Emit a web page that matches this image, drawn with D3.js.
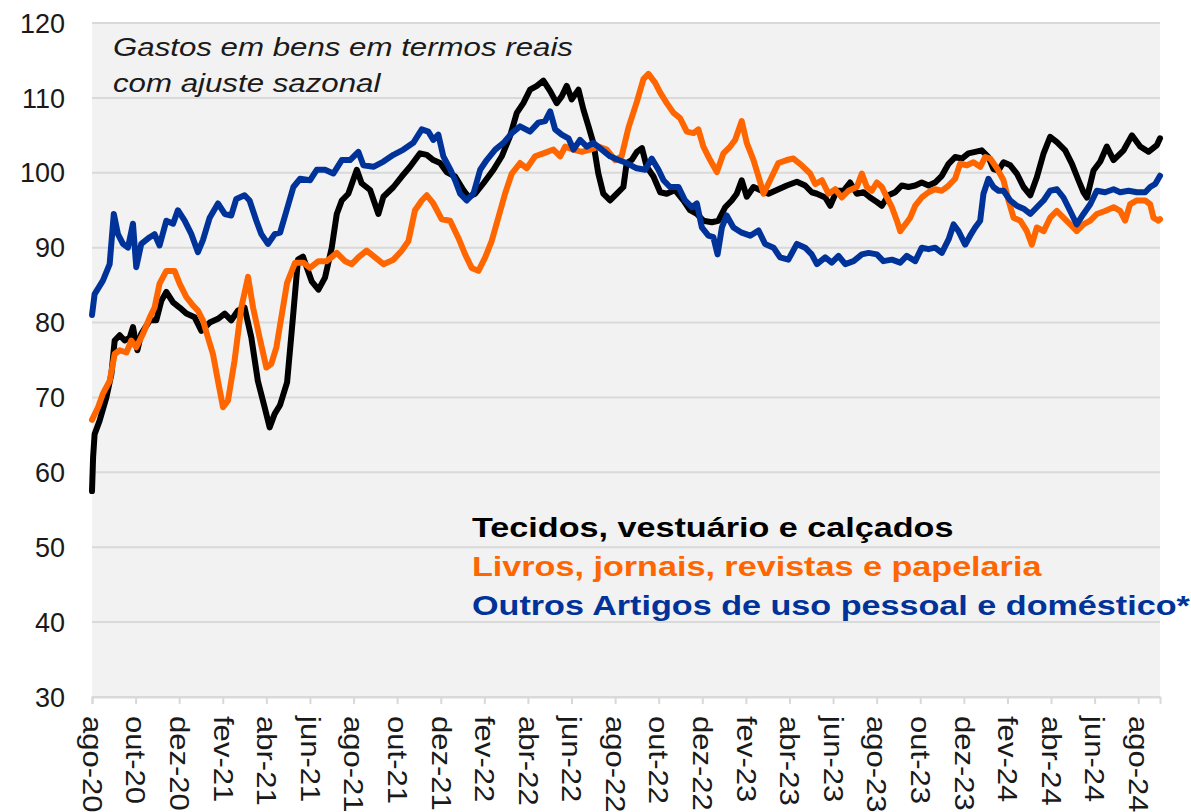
<!DOCTYPE html>
<html>
<head>
<meta charset="utf-8">
<script src="https://cdn.jsdelivr.net/npm/d3@7"></script>
<style>
  html, body { margin: 0; padding: 0; background: #ffffff; }
  svg { display: block; font-family: "Liberation Sans", Arial, sans-serif; }
</style>
</head>
<body>
<svg id="chart" width="1191" height="812"></svg>
<script>
// ---- Data (t = months since ago-2020) ----
const tickLabels = ["ago-20","out-20","dez-20","fev-21","abr-21","jun-21","ago-21","out-21","dez-21",
  "fev-22","abr-22","jun-22","ago-22","out-22","dez-22","fev-23","abr-23","jun-23","ago-23","out-23",
  "dez-23","fev-24","abr-24","jun-24","ago-24"];
const yTicks = [30,40,50,60,70,80,90,100,110,120];

const seriesNames = ["Tecidos, vestuário e calçados",
                     "Livros, jornais, revistas e papelaria",
                     "Outros Artigos de uso pessoal e doméstico*"];
const seriesColors = ["#000000", "#FF6600", "#003399"];

const tecidosT = [0,0.05,0.12,0.35,0.66,0.89,1.04,1.27,1.5,1.73,1.88,2.08,2.26,2.65,2.95,3.18,3.41,3.72,4.02,4.33,4.71,5.02,5.4,5.78,6.09,6.39,6.7,7.0,7.31,7.61,7.92,8.15,8.38,8.63,8.95,9.22,9.45,9.68,10.08,10.39,10.69,11.0,11.23,11.46,11.76,12.15,12.37,12.76,13.14,13.37,13.83,14.21,14.59,15.05,15.36,15.66,15.97,16.27,16.66,17.04,17.27,17.58,17.96,18.42,18.8,19.18,19.49,19.79,20.1,20.41,20.71,21.02,21.32,21.55,21.78,22.01,22.32,22.55,22.78,23.0,23.23,23.46,23.77,24.08,24.38,24.53,24.76,25.0,25.23,25.45,25.76,26.07,26.37,26.75,27.14,27.44,27.75,28.05,28.44,28.74,29.05,29.35,29.58,29.81,30.04,30.35,30.65,31.04,31.42,31.88,32.34,32.72,33.02,33.26,33.64,33.87,34.17,34.48,34.78,35.09,35.4,35.7,36.01,36.24,36.54,36.85,37.15,37.46,37.77,38.07,38.38,38.68,38.99,39.3,39.6,39.91,40.21,40.52,40.82,41.13,41.36,41.59,41.82,42.13,42.43,42.74,43.05,43.35,43.66,43.96,44.27,44.65,44.96,45.26,45.49,45.65,45.95,46.26,46.56,46.87,47.33,47.71,48.09,48.47,48.86,49.0];
const tecidosV = [57.5,62,65.1,66.9,70,73.1,77.6,78.3,77.6,78,79.4,76.3,78.5,80.3,80.3,82.9,84.1,82.7,82,81.2,80.7,78.9,80.0,80.5,81.2,80.3,81.6,82,78,72.2,68.7,66,67.8,69,72,80.7,88.4,88.8,85.5,84.4,86,90,94.5,96.3,97.2,100.4,98.6,97.7,94.5,96.8,98.1,99.5,100.8,102.6,102.4,101.7,101.3,100.1,99.5,97.7,96.8,97.2,98.6,100.4,102.2,104.9,108,109.3,111.1,111.6,112.3,110.9,109.3,110.2,111.6,109.8,111.1,108.4,106.2,104,99.9,97.2,96.3,97.2,98.1,101.3,101.7,102.8,103.3,100.8,99.5,97.4,97.2,97.7,96.3,95,94.5,93.6,93.4,93.6,95.4,96.3,97.2,99,96.8,98.1,97.7,97.2,97.7,98.3,98.8,98.3,97.4,97.2,96.7,95.6,97.6,97.6,98.7,97.2,97.4,96.7,96.1,95.6,97,97.4,98.3,98.1,98.3,98.7,98.3,98.7,99.6,101.2,102.1,101.9,102.6,102.8,103,102.1,100.5,100.3,101.4,101,99.9,98.1,97,99.4,102.6,104.8,104.1,103,101.2,99,97.4,96.7,100.3,101.5,103.5,101.7,103,105,103.5,102.8,103.7,104.6];

const livrosT = [0,0.28,0.5,0.81,1.04,1.27,1.58,1.8,2.03,2.34,2.65,2.87,3.1,3.41,3.79,4.02,4.33,4.63,4.86,5.09,5.32,5.55,5.78,6.01,6.24,6.54,6.85,7.16,7.39,7.69,8.0,8.23,8.46,8.95,9.32,9.7,10.0,10.39,10.77,11.23,11.61,11.92,12.22,12.6,12.99,13.37,13.83,14.21,14.52,14.82,15.13,15.36,15.66,16.04,16.43,16.81,17.12,17.42,17.73,18.04,18.34,18.65,18.95,19.26,19.64,19.95,20.33,20.71,21.17,21.48,21.71,22.09,22.47,22.85,23.23,23.62,24.0,24.3,24.61,25.0,25.3,25.53,25.84,26.07,26.37,26.68,26.98,27.29,27.6,27.82,28.05,28.36,28.67,28.97,29.28,29.51,29.81,30.04,30.35,30.58,30.81,31.11,31.49,31.88,32.18,32.56,32.95,33.18,33.49,33.79,34.1,34.4,34.71,35.09,35.32,35.55,35.78,36.01,36.24,36.47,36.7,36.93,37.08,37.31,37.54,37.77,38.07,38.38,38.68,38.99,39.3,39.6,39.83,40.14,40.44,40.75,40.98,41.21,41.52,41.82,42.05,42.28,42.59,42.89,43.12,43.35,43.66,43.96,44.27,44.57,44.88,45.18,45.49,45.8,46.1,46.48,46.87,47.17,47.4,47.63,47.94,48.32,48.55,48.7,48.93,49.0];
const livrosV = [67,68.7,70.5,72.2,75.8,76.3,76,77.6,76.7,78.5,80.7,82,85.2,86.9,86.9,85.2,83.4,82.3,81.6,80.3,78,75.8,72.2,68.7,69.6,74.9,82,86.1,82,78,74,74.5,76.7,85.3,88,88,87.3,88.2,88.2,89.3,88.2,87.8,88.7,89.6,88.7,87.8,88.4,89.6,90.9,95,96.3,97,95.9,93.8,93.6,91.3,89.1,87.3,86.9,88.7,90.9,94.1,97.2,99.9,101.3,100.6,102.2,102.6,103.1,102.2,103.5,103.1,102.8,103.1,103.5,103.1,101.7,102.2,106,109.5,112.5,113.2,112,110.7,109.3,108,107.3,105.5,105.3,105.8,103.5,101.7,100.1,102.6,103.5,104.4,106.9,104,101.7,99.5,97.2,99,101.3,101.7,101.9,101,99.9,98.5,99,97.2,97.8,96.7,97.6,98.1,99.9,98.1,97.6,98.7,98.1,96.7,95.4,93.6,92.2,93.1,94,95.6,96.7,97.4,97.8,97.6,98.3,99.2,101.2,101,101.4,100.8,102.1,101.9,100.6,99,96.3,94,93.6,92.2,90.4,92.7,92.2,94,94.9,94,93.1,92.2,93.1,93.6,94.5,94.9,95.4,94.9,93.6,95.8,96.3,96.3,95.8,94,93.6,93.8];

const outrosT = [0,0.12,0.5,0.81,1.0,1.19,1.42,1.65,1.88,2.03,2.26,2.65,2.87,3.1,3.41,3.72,3.94,4.25,4.56,4.86,5.09,5.4,5.78,6.09,6.39,6.62,7.0,7.23,7.54,7.77,8.07,8.38,8.63,8.93,9.24,9.55,10.0,10.31,10.69,11.07,11.46,11.84,12.22,12.45,12.91,13.37,13.83,14.29,14.74,15.13,15.43,15.66,15.89,16.12,16.43,16.66,16.89,17.19,17.5,17.81,18.11,18.5,18.88,19.26,19.64,20.1,20.48,20.79,21.02,21.25,21.55,21.86,22.09,22.39,22.7,23.0,23.39,23.77,24.15,24.53,24.99,25.38,25.68,25.99,26.22,26.52,26.91,27.21,27.52,27.75,27.98,28.28,28.51,28.7,28.9,29.12,29.43,29.81,30.2,30.58,30.88,31.27,31.57,31.95,32.34,32.72,33.02,33.26,33.64,33.94,34.25,34.56,34.94,35.32,35.63,36.01,36.31,36.7,37.08,37.38,37.77,38.07,38.38,38.68,38.99,39.3,39.53,39.76,40.06,40.29,40.52,40.75,40.9,41.13,41.36,41.59,41.82,42.13,42.43,42.74,43.05,43.35,43.66,43.96,44.27,44.57,44.88,45.18,45.49,45.8,46.1,46.48,46.87,47.17,47.56,47.94,48.32,48.55,48.78,49.0];
const outrosV = [81,83.8,85.6,87.8,94.5,91.8,90.5,90,93.2,87.4,90.5,91.4,91.8,90.3,93.6,93.2,95,93.6,91.8,89.4,91,94,95.9,94.5,94.3,96.5,97,96.3,93.6,91.8,90.5,91.8,92,95,98.1,99.2,99,100.4,100.4,99.9,101.7,101.7,102.8,101,100.8,101.5,102.4,103.1,104,105.8,105.5,104.4,105.1,102.2,100.5,99,97.2,96.3,97.2,100.4,101.7,103.1,104,105.3,106.2,105.5,106.7,106.9,108.2,105.8,105.1,104.6,103.1,104.4,103.5,104,103.1,102.2,101.7,101.3,100.6,100.4,101.9,100.4,99,98.1,98.1,96.3,95.4,95.9,92.7,91.6,91.4,89.1,92.7,94.3,92.7,92.0,91.6,92.3,90.5,90,88.7,88.4,90.5,90,89.1,87.8,88.7,88,88.9,87.8,88.2,89.1,89.3,89.1,88.2,88.4,88,88.9,88.2,90,89.8,90,89.3,91.1,93.1,92.2,90.4,91.6,92.7,93.6,97.2,99.2,98.1,97.6,97.6,96.3,95.6,95.2,94.5,95.4,96.3,97.6,97.8,96.7,94.9,93.1,94.5,95.8,97.6,97.4,97.8,97.4,97.6,97.4,97.4,98.1,98.5,99.6];

const titleLines = ["Gastos em bens em termos reais", "com ajuste sazonal"];

// ---- Chart ----
const svg = d3.select("#chart");
const pLeft = 92, pRight = 1160, pTop = 23, pBottom = 697;

const x = d3.scaleLinear().domain([0, 49]).range([pLeft, pRight]);
const y = d3.scaleLinear().domain([30, 120]).range([pBottom, pTop]);

// plot background
svg.append("rect")
  .attr("x", pLeft).attr("y", pTop)
  .attr("width", pRight - pLeft).attr("height", pBottom - pTop)
  .attr("fill", "#F2F2F2");

// gridlines
svg.append("g").selectAll("line")
  .data(yTicks)
  .join("line")
  .attr("x1", pLeft).attr("x2", pRight)
  .attr("y1", d => y(d)).attr("y2", d => y(d))
  .attr("stroke", "#D9D9D9").attr("stroke-width", 2);

// y labels
svg.append("g").selectAll("text")
  .data(yTicks)
  .join("text")
  .attr("x", 65).attr("y", d => y(d))
  .attr("dy", "0.36em")
  .attr("text-anchor", "end")
  .attr("font-size", 27)
  .attr("fill", "#1a1a1a")
  .text(d => d);

// x axis ticks + labels
const tickVals = tickLabels.map((_, i) => i * 2);
const xAxis = d3.axisBottom(x).tickValues(tickVals).tickSize(7).tickFormat((d, i) => tickLabels[i]);
const gx = svg.append("g").attr("transform", `translate(0,${pBottom})`).call(xAxis);
gx.select(".domain").attr("stroke", "#D9D9D9").attr("stroke-width", 2);
gx.selectAll(".tick line").attr("stroke", "#D9D9D9").attr("stroke-width", 2);
gx.selectAll(".tick text")
  .attr("font-size", 27)
  .attr("font-family", "Liberation Sans, Arial, sans-serif")
  .attr("fill", "#1a1a1a")
  .attr("text-anchor", "start")
  .attr("dy", "0.36em")
  .attr("transform", "translate(0,19) rotate(90) scale(1.15,1)")
  .attr("x", 0).attr("y", 0);

// lines
const allT = [tecidosT, livrosT, outrosT];
const allV = [tecidosV, livrosV, outrosV];
const line = d3.line().x(d => x(d[0])).y(d => y(d[1])).curve(d3.curveLinear);
allT.forEach((ts, k) => {
  const pts = ts.map((t, i) => [t, allV[k][i]]);
  svg.append("path")
    .datum(pts)
    .attr("d", line)
    .attr("fill", "none")
    .attr("stroke", seriesColors[k])
    .attr("stroke-width", 6)
    .attr("stroke-linejoin", "round")
    .attr("stroke-linecap", "round");
});

// title
svg.append("g").selectAll("text")
  .data(titleLines)
  .join("text")
  .attr("transform", (d, i) => `translate(113,${56 + i * 36}) scale(1.25,1)`)
  .attr("font-size", 25)
  .attr("font-style", "italic")
  .attr("fill", "#1a1a1a")
  .text(d => d);

// legend
svg.append("g").selectAll("text")
  .data(seriesNames)
  .join("text")
  .attr("transform", (d, i) => `translate(472,${537 + i * 39}) scale(1.22,1)`)
  .attr("font-size", 28)
  .attr("font-weight", "bold")
  .attr("fill", (d, i) => seriesColors[i])
  .text(d => d);
</script>
</body>
</html>
